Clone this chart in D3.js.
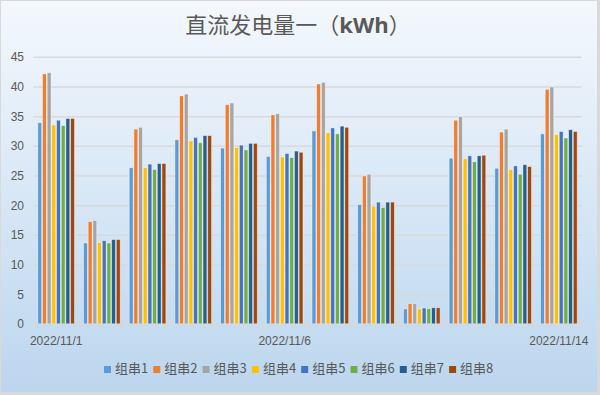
<!DOCTYPE html>
<html>
<head>
<meta charset="utf-8">
<script src="https://cdn.jsdelivr.net/npm/d3@7"></script>
<style>
  body { margin: 0; background: #fff; }
  svg { display: block; font-family: "Noto Sans CJK SC", "Noto Sans", sans-serif; }
</style>
</head>
<body>
<svg></svg>
<script>
const categories = ["2022/11/1", "2022/11/2", "2022/11/3", "2022/11/4", "2022/11/5", "2022/11/6",
  "2022/11/7", "2022/11/8", "2022/11/10", "2022/11/11", "2022/11/13", "2022/11/14"];
const shownLabels = ["2022/11/1", "2022/11/6", "2022/11/14"];
const seriesNames = ["组串1", "组串2", "组串3", "组串4", "组串5", "组串6", "组串7", "组串8"];
const colors = ["#5b9bd5", "#ed7d31", "#a5a5a5", "#ffc000", "#4472c4", "#70ad47", "#255e91", "#9e480e"];

const s1 = [34.0, 13.7, 26.4, 31.1, 29.7, 28.3, 32.6, 20.2, 2.6, 28.0, 26.3, 32.1];
const s2 = [42.2, 17.3, 32.9, 38.5, 37.0, 35.3, 40.5, 25.0, 3.5, 34.4, 32.4, 39.6];
const s3 = [42.4, 17.5, 33.2, 38.8, 37.3, 35.5, 40.8, 25.3, 3.5, 35.0, 32.9, 40.0];
const s4 = [33.6, 13.8, 26.4, 30.9, 29.8, 28.2, 32.3, 19.9, 2.6, 27.9, 26.1, 32.0];
const s5 = [34.4, 14.1, 27.0, 31.5, 30.2, 28.8, 33.1, 20.6, 2.75, 28.4, 26.7, 32.5];
const s6 = [33.5, 13.7, 26.1, 30.6, 29.4, 28.1, 32.1, 19.7, 2.65, 27.4, 25.3, 31.4];
const s7 = [34.7, 14.3, 27.1, 31.8, 30.5, 29.2, 33.4, 20.6, 2.8, 28.4, 26.9, 32.8];
const s8 = [34.7, 14.3, 27.1, 31.8, 30.5, 29.0, 33.2, 20.6, 2.8, 28.5, 26.6, 32.5];
const series = [s1, s2, s3, s4, s5, s6, s7, s8];
const yTicks = [0, 5, 10, 15, 20, 25, 30, 35, 40, 45];

const W = 600, H = 395;
const svg = d3.select("svg").attr("width", W).attr("height", H);

// background with gradient
const defs = svg.append("defs");
const grad = defs.append("linearGradient").attr("id", "bg").attr("x1", 0).attr("y1", 0).attr("x2", 0).attr("y2", 1);
grad.append("stop").attr("offset", "0%").attr("stop-color", "#f4f8fd");
grad.append("stop").attr("offset", "100%").attr("stop-color", "#bcd6ee");

svg.append("rect").attr("width", W).attr("height", H).attr("fill", "#d9d9d9");
svg.append("rect").attr("x", 1).attr("y", 1).attr("width", W - 4).attr("height", H - 4).attr("fill", "url(#bg)");

svg.append("text")
  .attr("x", 298).attr("y", 33)
  .attr("text-anchor", "middle")
  .attr("font-size", 22)
  .attr("fill", "#595959")
  .text("直流发电量一（")
  .append("tspan").attr("font-weight", "bold").attr("font-family", "'Open Sans', sans-serif").text("kWh")
  .select(function() { return this.parentNode; })
  .append("tspan").text("）");

const margin = { left: 33.3, right: W - 581.7, top: 57.3, bottom: H - 324.3 };

const x0 = d3.scaleBand()
  .domain(categories)
  .range([margin.left, W - margin.right])
  .paddingInner(0.18)
  .paddingOuter(0.09);

const x1 = d3.scaleBand()
  .domain(d3.range(seriesNames.length))
  .range([0, x0.bandwidth()]);

const y = d3.scaleLinear().domain([0, 45]).range([H - margin.bottom, margin.top]);

// gridlines
svg.append("g")
  .selectAll("line")
  .data(yTicks.filter(d => d > 0))
  .join("line")
  .attr("x1", margin.left).attr("x2", W - margin.right)
  .attr("y1", d => y(d)).attr("y2", d => y(d))
  .attr("stroke", "#d9d9d9").attr("stroke-width", 1.5);

// y axis labels
svg.append("g")
  .selectAll("text")
  .data(yTicks)
  .join("text")
  .attr("x", 24).attr("y", d => y(d) + 4)
  .attr("text-anchor", "end")
  .attr("font-size", 12)
  .attr("font-family", "'Liberation Sans', sans-serif")
  .attr("fill", "#595959")
  .text(d => d);

// bars
const groups = svg.append("g")
  .selectAll("g")
  .data(categories)
  .join("g")
  .attr("transform", d => `translate(${x0(d)},0)`);

groups.selectAll("rect")
  .data((d, i) => series.map((s, j) => ({ k: j, v: s[i] })))
  .join("rect")
  .attr("x", d => x1(d.k) + 0.4)
  .attr("width", x1.bandwidth() - 0.8)
  .attr("y", d => y(d.v))
  .attr("height", d => y(0) - y(d.v))
  .attr("fill", d => colors[d.k])
  .attr("stroke", "rgba(255,255,255,0.55)")
  .attr("stroke-width", 0.8);

// x axis
const xAxisY = y(0);
svg.append("line")
  .attr("x1", margin.left).attr("x2", W - margin.right)
  .attr("y1", xAxisY).attr("y2", xAxisY)
  .attr("stroke", "#d9d9d9").attr("stroke-width", 1.5);

const step = x0.step();
svg.append("g")
  .selectAll("line")
  .data(d3.range(categories.length + 1))
  .join("line")
  .attr("x1", i => margin.left + i * (W - margin.right - margin.left) / categories.length)
  .attr("x2", i => margin.left + i * (W - margin.right - margin.left) / categories.length)
  .attr("y1", xAxisY).attr("y2", xAxisY + 4)
  .attr("stroke", "#d9d9d9").attr("stroke-width", 1.5);

svg.append("g")
  .selectAll("text")
  .data(shownLabels)
  .join("text")
  .attr("x", d => x0(d) + x0.bandwidth() / 2)
  .attr("y", xAxisY + 21)
  .attr("text-anchor", "middle")
  .attr("font-size", 12)
  .attr("font-family", "'Liberation Sans', sans-serif")
  .attr("fill", "#595959")
  .text(d => d);

// legend
const legend = svg.append("g").attr("transform", "translate(104,373)");
const itemW = 49.3;
const items = legend.selectAll("g")
  .data(seriesNames)
  .join("g")
  .attr("transform", (d, i) => `translate(${i * itemW},0)`);
items.append("rect")
  .attr("x", 0).attr("y", -7)
  .attr("width", 7).attr("height", 7)
  .attr("fill", (d, i) => colors[i]);
items.append("text")
  .attr("x", 11).attr("y", 0)
  .attr("font-size", 13)
  .attr("fill", "#595959")
  .text(d => d);
</script>
</body>
</html>
